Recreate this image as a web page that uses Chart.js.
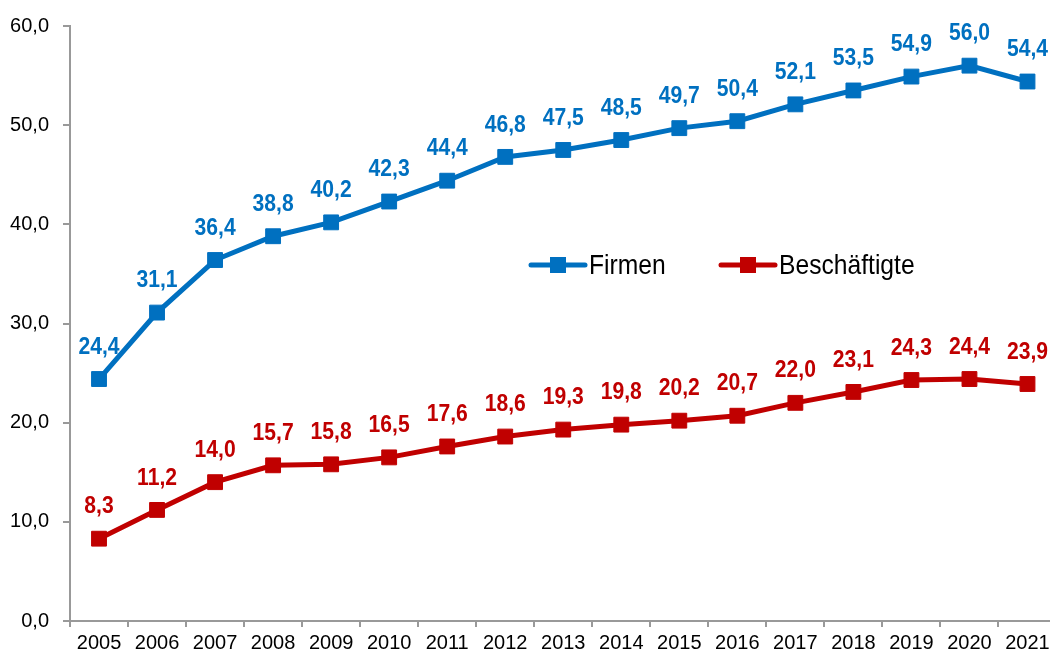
<!DOCTYPE html>
<html>
<head>
<meta charset="utf-8">
<script src="https://cdn.jsdelivr.net/npm/chart.js@4"></script>
<style>
  body { margin: 0; background: #fff; overflow: hidden; }
  #wrap { width: 1068px; height: 661px; }
</style>
</head>
<body>
<div id="wrap"><canvas id="lineChart"></canvas></div>
<script>
const years = ['2005', '2006', '2007', '2008', '2009', '2010', '2011', '2012', '2013',
               '2014', '2015', '2016', '2017', '2018', '2019', '2020', '2021'];
const firmen = [24.4, 31.1, 36.4, 38.8, 40.2, 42.3, 44.4, 46.8, 47.5,
                48.5, 49.7, 50.4, 52.1, 53.5, 54.9, 56.0, 54.4];
const beschaeftigte = [8.3, 11.2, 14.0, 15.7, 15.8, 16.5, 17.6, 18.6, 19.3,
                       19.8, 20.2, 20.7, 22.0, 23.1, 24.3, 24.4, 23.9];
const yTicks = [0, 10, 20, 30, 40, 50, 60];

const FONT = '"Liberation Sans", Arial, sans-serif';
const SQUEEZE = 0.88; // reference text is a bit condensed
const fmt = v => v.toFixed(1).replace('.', ',');

// value labels above each point
const pointLabels = {
    id: 'pointLabels',
    afterDatasetsDraw(chart) {
        const ctx = chart.ctx;
        ctx.save();
        ctx.font = 'bold 24px ' + FONT;
        ctx.textAlign = 'center';
        ctx.textBaseline = 'middle';
        chart.data.datasets.forEach((ds, i) => {
            ctx.fillStyle = ds.borderColor;
            chart.getDatasetMeta(i).data.forEach((pt, j) => {
                ctx.save();
                ctx.translate(pt.x, pt.y - 32);
                ctx.scale(SQUEEZE, 1);
                ctx.fillText(fmt(ds.data[j]), 0, 0);
                ctx.restore();
            });
        });
        ctx.restore();
    }
};

// legend drawn inside the plot area
const innerLegend = {
    id: 'innerLegend',
    afterDraw(chart) {
        const ctx = chart.ctx;
        const spots = [{ x: 531, y: 265 }, { x: 721, y: 265 }];
        ctx.save();
        ctx.font = '28px ' + FONT;
        ctx.textBaseline = 'middle';
        chart.data.datasets.forEach((ds, i) => {
            const s = spots[i];
            ctx.strokeStyle = ds.borderColor;
            ctx.lineWidth = 5;
            ctx.lineCap = 'round';
            ctx.beginPath();
            ctx.moveTo(s.x, s.y);
            ctx.lineTo(s.x + 54, s.y);
            ctx.stroke();
            ctx.fillStyle = ds.borderColor;
            ctx.fillRect(s.x + 19, s.y - 8, 16, 16);
            ctx.fillStyle = '#000';
            ctx.save();
            ctx.translate(s.x + 58, s.y + 1);
            ctx.scale(SQUEEZE, 1);
            ctx.fillText(ds.label, 0, 0);
            ctx.restore();
        });
        ctx.restore();
    }
};

new Chart(document.getElementById('lineChart'), {
    type: 'line',
    data: {
        labels: years,
        datasets: [{
            label: 'Firmen',
            data: firmen,
            borderColor: '#0070C0',
            backgroundColor: '#0070C0',
            borderWidth: 5,
            pointStyle: 'rect',
            pointRadius: 10.5,
            pointBorderWidth: 1,
            tension: 0
        }, {
            label: 'Beschäftigte',
            data: beschaeftigte,
            borderColor: '#C00000',
            backgroundColor: '#C00000',
            borderWidth: 5,
            pointStyle: 'rect',
            pointRadius: 10.5,
            pointBorderWidth: 1,
            tension: 0
        }]
    },
    options: {
        responsive: true,
        maintainAspectRatio: false,
        animation: false,
        layout: { padding: { top: 24, right: 0, left: 0, bottom: 0 } },
        plugins: {
            legend: { display: false },
            tooltip: { enabled: false }
        },
        scales: {
            x: {
                offset: true,
                grid: {
                    display: true,
                    offset: true,
                    drawOnChartArea: false,
                    tickLength: 6,
                    color: '#999',
                    lineWidth: 2
                },
                border: { color: '#999', width: 2 },
                ticks: {
                    color: '#000',
                    padding: 4,
                    maxRotation: 0,
                    font: { family: FONT, size: 20 }
                },
                afterFit(scale) { scale.height = 40; }
            },
            y: {
                min: 0,
                max: 60,
                afterBuildTicks(scale) {
                    scale.ticks = yTicks.map(v => ({ value: v }));
                },
                grid: {
                    display: true,
                    drawOnChartArea: false,
                    tickLength: 7,
                    color: '#999',
                    lineWidth: 2
                },
                border: { color: '#999', width: 2 },
                ticks: {
                    color: '#000',
                    padding: 14,
                    font: { family: FONT, size: 20 },
                    callback: v => fmt(v)
                },
                afterFit(scale) { scale.width = 70; }
            }
        }
    },
    plugins: [pointLabels, innerLegend]
});
</script>
</body>
</html>
